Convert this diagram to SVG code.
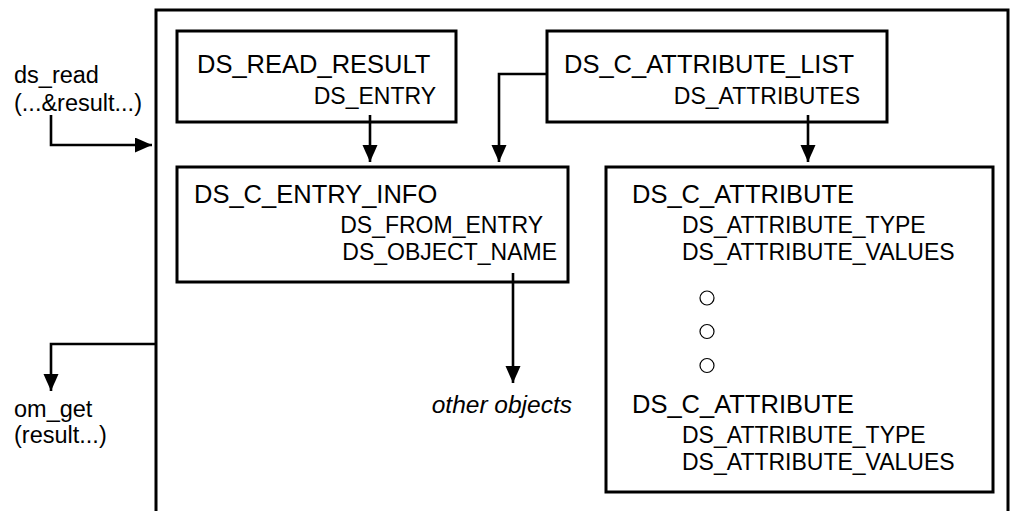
<svg xmlns="http://www.w3.org/2000/svg" width="1014" height="511" viewBox="0 0 1014 511">
<style>
.box{fill:none;stroke:#000;stroke-width:3}
.con{fill:none;stroke:#000;stroke-width:2.6;marker-end:url(#ah)}
.t{font-family:"Liberation Sans",Arial,sans-serif;fill:#000}
.big{font-size:25.5px}
.sm{font-size:23px}
.lbl{font-size:23.5px}
.e{text-anchor:end}
.it{font-style:italic;font-size:24.5px}
</style>
<defs>
<marker id="ah" markerUnits="userSpaceOnUse" markerWidth="18" markerHeight="16" refX="17" refY="7.5" orient="auto">
<path d="M0,0 L17,7.5 L0,15 z" fill="#000"/>
</marker>
</defs>
<rect width="1014" height="511" fill="#fff"/>
<g id="outer">
<path class="box" d="M156,520 V10 H1008 V520"/>
</g>
<g id="ds_read_result">
<rect class="box" x="177" y="31" width="279" height="91"/>
<text class="t big" x="197" y="73">DS_READ_RESULT</text>
<text class="t sm e" x="436" y="104">DS_ENTRY</text>
</g>
<g id="ds_c_attribute_list">
<rect class="box" x="547" y="31" width="340" height="91"/>
<text class="t big" x="564" y="73">DS_C_ATTRIBUTE_LIST</text>
<text class="t sm e" x="860" y="104">DS_ATTRIBUTES</text>
</g>
<g id="ds_c_entry_info">
<rect class="box" x="177" y="167" width="391" height="115"/>
<text class="t big" x="194" y="203">DS_C_ENTRY_INFO</text>
<text class="t sm e" x="543" y="233">DS_FROM_ENTRY</text>
<text class="t sm e" x="557" y="260">DS_OBJECT_NAME</text>
</g>
<g id="ds_c_attribute">
<rect class="box" x="606" y="167" width="387" height="325"/>
<text class="t big" x="632" y="203">DS_C_ATTRIBUTE</text>
<text class="t sm" x="682" y="233">DS_ATTRIBUTE_TYPE</text>
<text class="t sm" x="682" y="260">DS_ATTRIBUTE_VALUES</text>
<circle cx="707" cy="298" r="7" fill="none" stroke="#000" stroke-width="1.2"/>
<circle cx="707" cy="331.5" r="7" fill="none" stroke="#000" stroke-width="1.2"/>
<circle cx="707" cy="365.5" r="7" fill="none" stroke="#000" stroke-width="1.2"/>
<text class="t big" x="632" y="413">DS_C_ATTRIBUTE</text>
<text class="t sm" x="682" y="443">DS_ATTRIBUTE_TYPE</text>
<text class="t sm" x="682" y="470">DS_ATTRIBUTE_VALUES</text>
</g>
<g id="ds_read">
<text class="t lbl" x="14" y="83">ds_read</text>
<text class="t lbl" x="14" y="111">(...&amp;result...)</text>
</g>
<g id="om_get">
<text class="t lbl" x="14" y="417">om_get</text>
<text class="t lbl" x="14" y="443">(result...)</text>
</g>
<g id="other_objects">
<text class="t it e" x="572" y="413">other objects</text>
</g>
<g id="connectors">
<path class="con" d="M51,115 V145 H152"/>
<path class="con" d="M156,344 H51 V391"/>
<path class="con" d="M370,115 V162"/>
<path class="con" d="M547,74 H499 V162"/>
<path class="con" d="M808,115 V162"/>
<path class="con" d="M513,273 V383"/>
</g>
</svg>
